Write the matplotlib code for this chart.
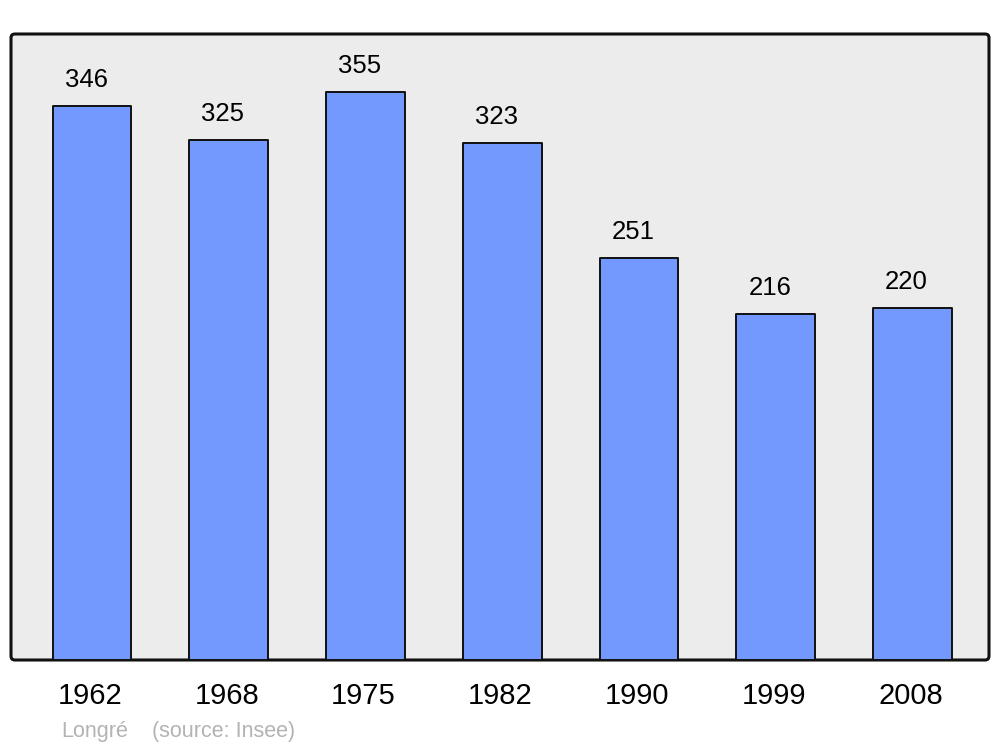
import matplotlib
matplotlib.use("Agg")
import matplotlib.pyplot as plt
from matplotlib.patches import FancyBboxPatch
from matplotlib.transforms import ScaledTranslation

years = ["1962", "1968", "1975", "1982", "1990", "1999", "2008"]
population = [346, 325, 355, 323, 251, 216, 220]

plt.rcParams['font.family'] = ['Liberation Sans', 'DejaVu Sans']

fig = plt.figure(figsize=(10, 7.47), dpi=100)
ax = fig.add_axes([0.011, 87/747, 0.978, 626/747])
ax.patch.set_visible(False)
for s in ax.spines.values():
    s.set_visible(False)

# rounded frame
frame = FancyBboxPatch((0, 0), 1, 1, boxstyle="round,pad=0,rounding_size=0.004",
                       mutation_aspect=978/626, transform=ax.transAxes,
                       facecolor="#ececec", edgecolor="#111111", linewidth=2.2,
                       zorder=0, clip_on=False)
ax.add_patch(frame)

x = list(range(len(years)))
ax.bar(x, population, width=0.575, color="#7399ff", edgecolor="#111111",
       linewidth=1.4, joinstyle='round', zorder=2)

for xi, v in zip(x, population):
    ax.annotate(str(v), (xi, v), xytext=(-4.3, 13.7), textcoords="offset points",
                ha="center", va="baseline", fontsize=18.5, color="black")

ax.set_xlim(-0.593, 6.56)
ax.set_ylim(0, 391)
ax.set_yticks([])
ax.set_xticks(x)
ax.set_xticklabels(years, fontsize=21)
ax.tick_params(axis='x', length=0, pad=16)
for lab in ax.get_xticklabels():
    lab.set_transform(lab.get_transform() + ScaledTranslation(-2/100, 0, fig.dpi_scale_trans))

fig.text(0.061, 1 - 737/747, "Longré", color="#b3b3b3", fontsize=15.5, va="baseline")
fig.text(0.152, 1 - 737/747, "(source: Insee)", color="#b3b3b3", fontsize=15.5, va="baseline")

fig.savefig("out.png", dpi=100)
